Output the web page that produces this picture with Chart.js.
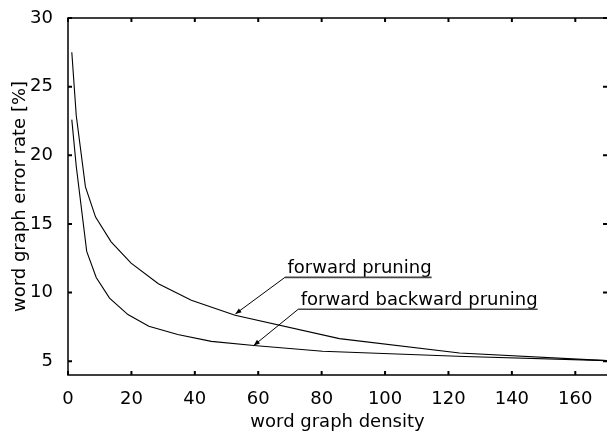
<!DOCTYPE html>
<html>
<head>
<meta charset="utf-8">
<script src="https://cdn.jsdelivr.net/npm/chart.js@4/dist/chart.umd.min.js"></script>
<style>
  html, body { margin: 0; padding: 0; background: #fff; }
  #wrap { width: 607px; height: 432px; position: relative; }
</style>
</head>
<body>
<div id="wrap"><canvas id="c" width="607" height="432"></canvas></div>
<script>
// ---- data ----
const forwardDensity = [1.2, 2.6, 5.5, 8.7, 13.6, 19.9, 28.5, 38.9, 52.7, 85.6, 123.5, 170];
const forwardError   = [27.5, 22.9, 17.7, 15.5, 13.7, 12.15, 10.65, 9.45, 8.35, 6.65, 5.6, 5.05];
const fwdBwdDensity  = [1.2, 2.6, 5.9, 8.9, 13.1, 18.9, 25.5, 34.6, 45.2, 58.6, 80.3, 125, 170];
const fwdBwdError    = [22.6, 19.2, 13.0, 11.1, 9.6, 8.4, 7.55, 6.95, 6.45, 6.15, 5.73, 5.35, 5.05];
const xTickValues = [0, 20, 40, 60, 80, 100, 120, 140, 160];
const yTickValues = [5, 10, 15, 20, 25, 30];
const seriesNames = ['forward pruning', 'forward backward pruning'];
// annotation anchors in data units: label start, arrow tip
const labelAnchors = [
  { text: seriesNames[0], x: 69.2, y: 11.45, tipX: 52.8, tipY: 8.45 },
  { text: seriesNames[1], x: 73.4, y: 9.13, tipX: 58.6, tipY: 6.15 }
];

const FONT = 'DejaVu Sans';

function pts(xs, ys) { return xs.map((v, i) => ({ x: v, y: ys[i] })); }

const framePlugin = {
  id: 'frame',
  afterDraw(chart) {
    const { ctx, chartArea: a, scales: { x, y } } = chart;
    ctx.save();
    ctx.strokeStyle = '#000';
    ctx.lineWidth = 1.5;
    ctx.beginPath();
    ctx.moveTo(a.left, a.top); ctx.lineTo(a.right + 2, a.top);
    ctx.moveTo(a.left, a.top - 0.75); ctx.lineTo(a.left, a.bottom);
    ctx.lineTo(a.right + 2, a.bottom);
    ctx.stroke();
    // inward ticks
    ctx.lineWidth = 2;
    ctx.beginPath();
    x.ticks.forEach(t => {
      const px = x.getPixelForValue(t.value);
      ctx.moveTo(px, a.bottom); ctx.lineTo(px, a.bottom - 4);
      ctx.moveTo(px, a.top); ctx.lineTo(px, a.top + 4);
    });
    y.ticks.forEach(t => {
      const py = y.getPixelForValue(t.value);
      ctx.moveTo(a.left, py); ctx.lineTo(a.left + 4, py);
      ctx.moveTo(a.right, py); ctx.lineTo(a.right - 4, py);
    });
    ctx.stroke();

    // annotations
    ctx.font = '18px "' + FONT + '"';
    ctx.textBaseline = 'alphabetic';
    ctx.textAlign = 'left';
    labelAnchors.forEach(l => {
      const tx = x.getPixelForValue(l.x);
      const ty = y.getPixelForValue(l.y);
      const w = ctx.measureText(l.text).width;
      ctx.fillStyle = '#000';
      ctx.fillText(l.text, tx, ty);
      const uy = ty + 4.7;
      const ux0 = tx - 2.5;
      ctx.strokeStyle = '#444';
      ctx.lineWidth = 1.6;
      ctx.beginPath();
      ctx.moveTo(ux0, uy); ctx.lineTo(tx + w, uy);
      ctx.stroke();
      // leader line with arrow
      const px = x.getPixelForValue(l.tipX);
      const py = y.getPixelForValue(l.tipY);
      ctx.strokeStyle = '#000';
      ctx.lineWidth = 1;
      ctx.beginPath();
      ctx.moveTo(ux0, uy); ctx.lineTo(px, py);
      ctx.stroke();
      const ang = Math.atan2(py - uy, px - ux0);
      const L = 6, H = 2.4;
      ctx.beginPath();
      ctx.moveTo(px, py);
      ctx.lineTo(px - L * Math.cos(ang) + H * Math.sin(ang), py - L * Math.sin(ang) - H * Math.cos(ang));
      ctx.lineTo(px - L * Math.cos(ang) - H * Math.sin(ang), py - L * Math.sin(ang) + H * Math.cos(ang));
      ctx.closePath();
      ctx.fillStyle = '#000';
      ctx.fill();
    });
    ctx.restore();
  }
};

const lineStyle = { borderColor: '#000', borderWidth: 1.1, pointRadius: 0, tension: 0, fill: false };

new Chart(document.getElementById('c'), {
  type: 'line',
  data: {
    datasets: [
      Object.assign({ label: seriesNames[0], data: pts(forwardDensity, forwardError) }, lineStyle),
      Object.assign({ label: seriesNames[1], data: pts(fwdBwdDensity, fwdBwdError) }, lineStyle)
    ]
  },
  options: {
    responsive: false,
    animation: false,
    plugins: { legend: { display: false }, tooltip: { enabled: false } },
    layout: { padding: { top: 18, left: 0, right: 0, bottom: 0 } },
    scales: {
      x: {
        type: 'linear', min: 0, max: 170,
        afterBuildTicks(s) { s.ticks = xTickValues.map(v => ({ value: v })); },
        ticks: { color: '#000', font: { family: FONT, size: 18 }, padding: 6, maxRotation: 0, autoSkip: false },
        grid: { display: false },
        border: { display: false },
        title: { display: true, text: 'word graph density', color: '#000',
                 font: { family: FONT, size: 18, lineHeight: 1 }, padding: { top: 0, bottom: 1 } },
        afterFit(s) { s.height = 57; }
      },
      y: {
        type: 'linear', min: 4, max: 30,
        afterBuildTicks(s) { s.ticks = yTickValues.map(v => ({ value: v })); },
        ticks: { color: '#000', font: { family: FONT, size: 18 }, padding: 7, autoSkip: false },
        grid: { display: false },
        border: { display: false },
        title: { display: true, text: 'word graph error rate [%]', color: '#000',
                 font: { family: FONT, size: 18, lineHeight: 1 }, padding: { top: 11.5, bottom: 0 } },
        afterFit(s) { s.width = 68; }
      }
    }
  },
  plugins: [framePlugin]
});
</script>
</body>
</html>
